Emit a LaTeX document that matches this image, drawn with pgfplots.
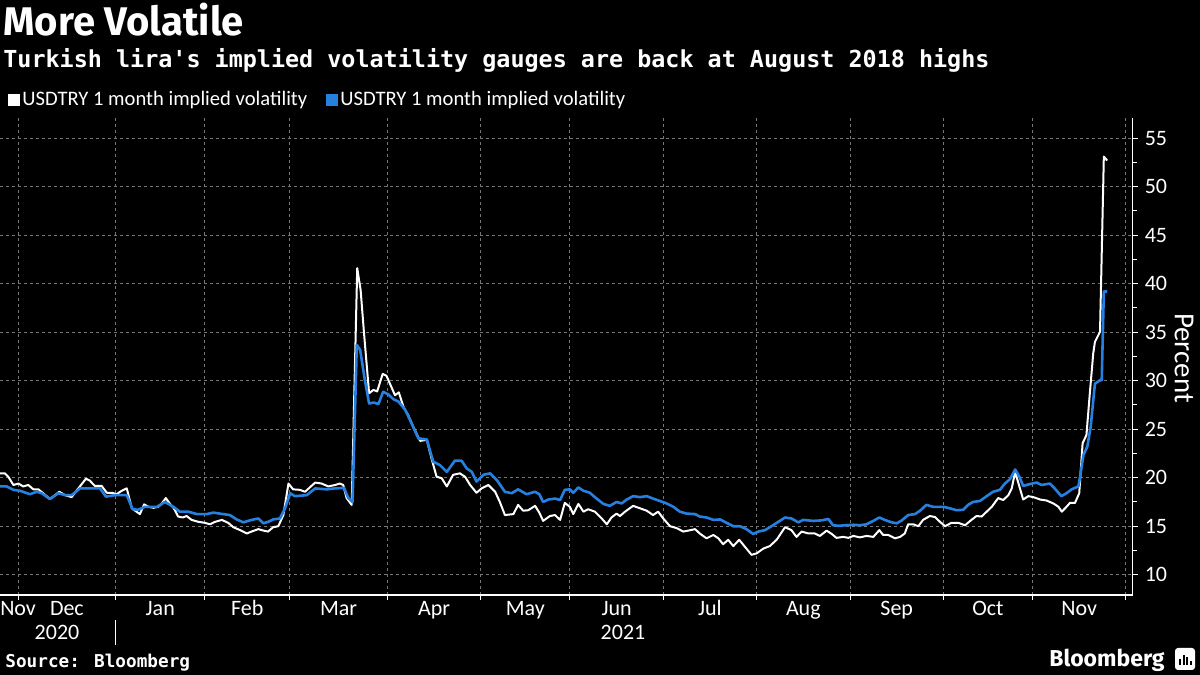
\documentclass[border=0pt]{standalone}
\usepackage{fontspec}
\setmainfont{Carlito}
\newfontfamily\fira{Fira Sans}
\newfontfamily\dmono{DejaVu Sans Mono}
\usepackage{pgfplots}
\pgfplotsset{compat=1.18}
\usepackage{pgfplotstable}
\definecolor{bblue}{RGB}{38,128,224}
\definecolor{gridgray}{RGB}{118,118,118}

% x = business-day index (0 = 1 Jan 2021), v = implied volatility (percent)
\pgfplotstableread{
d v
-27.3 20.45
-26.1 20.45
-25.3 20.1
-24.1 19.25
-22.9 19.4
-21.8 19.1
-20.6 19.25
-19.4 18.8
-18.2 18.8
-17.1 18.4
-15.5 17.8
-14.3 18.2
-13.3 18.55
-11.9 18.2
-10.4 18.0
-8.8 18.9
-7.0 19.9
-6.1 19.7
-4.9 19.15
-3.3 19.15
-2.1 18.45
-0.9 18.45
0.2 18.3
1.4 18.65
2.6 18.9
3.8 16.85
4.9 16.5
5.7 16.25
6.7 17.25
7.7 17.0
8.9 16.9
10.0 17.0
10.8 17.3
11.8 17.9
12.8 17.3
13.7 16.85
14.7 16.0
15.8 15.9
16.7 16.05
17.9 15.65
19.5 15.45
21.0 15.35
22.2 15.2
23.4 15.45
25.0 15.65
26.5 15.35
27.7 14.9
29.3 14.6
30.9 14.25
32.0 14.45
33.6 14.7
34.8 14.55
35.9 14.45
37.1 14.9
38.3 15.0
39.5 16.15
40.7 19.4
41.8 18.8
43.4 18.75
44.6 18.55
47.0 19.5
48.5 19.4
50.1 19.1
51.7 19.25
52.8 19.4
53.6 19.25
54.4 17.9
55.6 17.2
56.9 41.6
57.7 39.35
58.5 34.9
59.7 28.7
60.7 29.05
61.6 28.9
62.9 30.7
63.8 30.5
65.0 29.3
65.8 28.5
66.7 28.8
67.8 27.3
68.9 26.45
70.1 25.25
71.7 23.8
73.3 23.9
74.4 22.0
75.6 20.1
76.8 19.95
78.0 19.1
79.5 20.3
81.1 20.45
82.3 20.1
83.5 19.25
85.0 18.45
86.2 18.9
87.8 19.25
89.4 18.55
90.5 17.5
91.7 16.15
93.7 16.25
94.8 17.2
96.0 16.6
97.2 16.65
98.8 17.1
99.8 16.4
100.7 15.55
102.3 16.05
103.5 16.15
104.7 15.65
105.8 17.4
107.0 17.0
107.8 16.25
109.0 17.3
110.2 16.5
111.3 16.75
112.9 16.5
114.5 15.8
115.7 15.2
116.8 15.9
118.0 16.3
118.8 16.05
120.0 16.5
121.9 17.1
123.5 16.85
125.1 16.6
126.6 16.15
127.8 16.5
129.0 15.8
130.6 15.0
132.2 14.8
133.7 14.45
134.9 14.55
136.5 14.7
137.6 14.25
139.2 13.75
140.8 14.1
142.0 13.75
143.1 13.15
144.3 13.6
145.5 12.95
146.9 13.6
148.2 12.9
149.8 12.05
151.0 12.2
152.6 12.7
154.1 12.95
155.7 13.6
157.7 14.9
159.2 14.6
160.4 13.9
161.6 14.45
163.2 14.25
164.7 14.25
165.9 14.0
167.5 14.55
168.7 14.2
169.8 13.8
171.4 13.9
172.6 13.8
173.8 14.0
175.3 13.85
176.9 14.0
178.5 13.9
179.9 14.6
180.8 14.1
182.0 14.1
183.6 13.75
184.8 13.9
185.9 14.25
186.7 15.2
187.9 15.2
189.1 15.0
190.2 15.65
191.8 16.05
193.0 15.95
194.2 15.45
195.4 15.0
196.9 15.35
198.5 15.35
200.1 15.1
201.6 15.65
202.8 16.05
204.0 16.0
205.2 16.5
206.4 17.0
207.9 17.9
209.1 17.7
210.3 18.2
211.1 18.9
211.9 20.6
212.9 19.1
213.8 17.75
215.0 18.1
216.2 18.0
217.8 17.75
219.3 17.65
220.9 17.35
222.1 17.0
222.9 16.5
224.0 17.0
224.8 17.4
226.0 17.4
227.0 18.4
227.8 23.55
228.7 24.4
229.5 28.7
230.3 32.8
230.7 34.0
231.9 35.05
232.8 53.1
233.6 52.7
}\whitedata

\pgfplotstableread{
d v
-27.3 19.1
-25.7 19.1
-24.1 18.75
-22.5 18.65
-20.2 18.3
-18.6 18.55
-17.4 18.4
-15.5 17.8
-13.5 18.4
-11.9 18.2
-10.4 18.2
-8.4 18.9
-6.1 18.9
-3.7 18.9
-2.3 18.05
-0.2 18.2
2.6 18.2
4.0 16.75
5.3 16.7
6.9 17.0
9.7 17.0
11.6 17.5
13.6 17.0
15.1 16.5
17.1 16.5
19.1 16.25
21.4 16.25
23.0 16.4
25.3 16.25
26.9 16.15
28.5 15.7
30.1 15.4
32.0 15.65
33.6 15.8
34.8 15.3
35.9 15.45
37.1 15.7
38.7 15.8
39.9 16.85
41.1 18.4
42.2 18.1
45.0 18.2
47.0 18.9
49.7 18.8
51.7 18.9
53.8 18.95
54.8 17.9
55.8 17.5
56.8 33.7
57.6 33.15
58.7 30.05
59.7 27.65
60.8 27.75
61.9 27.6
63.0 28.85
64.2 28.6
65.4 28.1
66.6 27.85
68.2 27.0
69.7 25.6
71.3 24.05
73.3 23.95
74.8 21.65
76.4 21.3
78.0 20.6
79.9 21.75
81.5 21.75
82.7 20.95
83.9 20.6
85.0 19.6
86.6 20.3
88.2 20.45
89.8 19.75
91.7 18.55
93.3 18.4
94.8 18.8
96.8 18.3
98.8 18.55
99.8 18.3
100.7 17.5
101.9 17.75
103.5 17.85
104.7 17.7
105.8 18.75
107.0 18.8
107.8 18.45
109.0 19.0
110.2 18.65
111.7 18.45
113.3 17.85
114.9 17.3
116.4 17.1
118.0 17.5
119.2 17.35
120.4 17.75
121.9 18.1
123.5 18.0
125.1 18.1
126.6 17.85
128.2 17.6
129.8 17.35
131.4 17.0
132.9 16.5
134.5 16.3
136.5 16.25
137.6 16.0
139.2 15.9
140.8 15.65
142.4 15.7
143.9 15.35
145.5 15.0
147.1 15.0
148.6 14.7
150.2 14.2
151.4 14.45
153.0 14.6
154.5 15.0
156.1 15.45
157.7 15.9
159.2 15.8
160.8 15.4
162.0 15.65
164.3 15.55
166.3 15.6
167.9 15.75
169.0 15.1
170.2 15.05
172.2 15.1
173.8 15.15
175.3 15.1
176.9 15.2
178.5 15.55
179.9 15.9
181.2 15.65
182.8 15.4
184.0 15.3
185.2 15.6
186.7 16.15
188.3 16.25
189.5 16.6
191.0 17.2
192.6 17.0
195.0 17.0
196.5 16.85
198.1 16.65
199.7 16.7
200.8 17.2
202.0 17.5
203.6 17.6
205.2 18.1
206.7 18.55
208.3 18.75
209.5 19.4
210.7 19.85
211.9 20.85
212.9 20.1
213.8 19.15
215.4 19.35
217.0 19.5
218.1 19.25
220.1 19.4
221.2 18.9
222.8 18.1
224.0 18.4
225.2 18.8
226.8 19.1
227.2 20.1
228.0 22.35
228.9 23.2
229.7 25.25
230.7 29.7
231.9 30.05
232.3 30.05
232.8 39.2
233.6 39.2
}\bluedata

\begin{document}
\begin{tikzpicture}
\useasboundingbox (0,0) rectangle (600pt,337.5pt);
\fill[black] (0,0) rectangle (600pt,337.5pt);
\begin{axis}[
  at={(0pt,40pt)}, anchor=south west,
  width=566.35pt, height=238.5pt, scale only axis,
  xmin=-27.26, xmax=239.6, ymin=7.91, ymax=57.08,
  axis x line*=bottom, axis y line*=right,
  axis line style={white, line width=0.75pt, -},
  tick align=outside,
  tick style={white, line width=0.5pt},
  major tick length=2.5pt, minor tick length=2pt,
  xtick={-23,0,21,41,64,86,107,129,151,173,195,216,238},
  xticklabels={},
  xmajorgrids,
  extra x ticks={-23,-11.5,10.5,31,52.5,75,96.5,118,140,162,184,205.5,227},
  extra x tick labels={Nov,Dec,Jan,Feb,Mar,Apr,May,Jun,Jul,Aug,Sep,Oct,Nov},
  extra x tick style={major tick length=0pt, grid=none,
    xticklabel style={anchor=base, yshift=-10.5pt}},
  ytick={10,15,...,55},
  minor y tick num=1,
  ymajorgrids,
  major grid style={gridgray, line width=0.5pt, dash pattern=on 1.5pt off 1.5pt},
  tick label style={white, font=\fontsize{11}{11}\selectfont},
  yticklabel style={anchor=west, xshift=0pt},
  /pgf/number format/assume math mode=true,
  line join=round,
]
\addplot[white, line width=1pt, no markers] table[x=d, y=v] {\whitedata};
\addplot[bblue, line width=1.3pt, no markers] table[x=d, y=v] {\bluedata};
\end{axis}
% titles
\node[anchor=base west, inner sep=0, text=white, font=\fira\bfseries\fontsize{20}{20}\selectfont] at (1.5pt,319.5pt) {More Volatile};
\node[anchor=base west, inner sep=0, text=white, font=\dmono\bfseries\fontsize{11.7}{11.7}\selectfont] at (1.5pt,303.5pt) {Turkish lira's implied volatility gauges are back at August 2018 highs};
% legend
\fill[white] (4pt,284.5pt) rectangle (10pt,290.5pt);
\node[anchor=base west, inner sep=0, text=white, font=\fontsize{10.3}{10.3}\selectfont] at (11pt,284.5pt) {USDTRY 1 month implied volatility};
\fill[bblue] (163pt,284.5pt) rectangle (169pt,290.5pt);
\node[anchor=base west, inner sep=0, text=white, font=\fontsize{10.3}{10.3}\selectfont] at (170pt,284.5pt) {USDTRY 1 month implied volatility};
% y label
\node[rotate=-90, text=white, inner sep=0, font=\fontsize{14.5}{14.5}\selectfont] at (592pt,158.5pt) {Percent};
% years
\node[anchor=base, inner sep=0, text=white, font=\fontsize{11}{11}\selectfont] at (28.5pt,17.5pt) {2020};
\node[anchor=base, inner sep=0, text=white, font=\fontsize{11}{11}\selectfont] at (311.5pt,17.5pt) {2021};
\draw[white, line width=0.5pt] (57.85pt,27.5pt) -- (57.85pt,15pt);
% footer
\node[anchor=base west, inner sep=0, text=white, font=\dmono\bfseries\fontsize{8.85}{8.85}\selectfont] at (2.5pt,4pt) {Source: Bloomberg};
\node[anchor=base east, inner sep=0, text=white, font=\fira\bfseries\fontsize{11.5}{11.5}\selectfont] at (582.5pt,4.5pt) {Bloomberg};
\fill[white, rounded corners=1.5pt] (587.5pt,2.5pt) rectangle (597.5pt,13.5pt);
\fill[black] (589.5pt,5pt) rectangle (590.5pt,8pt);
\fill[black] (591.3pt,5pt) rectangle (592.3pt,10pt);
\fill[black] (593.1pt,5pt) rectangle (594.1pt,9pt);
\fill[black] (594.9pt,5pt) rectangle (595.9pt,7pt);
\end{tikzpicture}
\end{document}
